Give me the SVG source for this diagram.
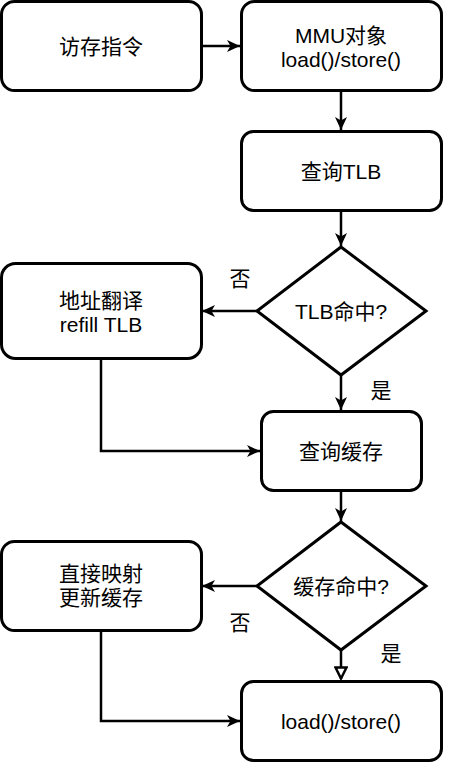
<svg xmlns="http://www.w3.org/2000/svg" width="453" height="763" viewBox="0 0 453 763">
<style>
.n{fill:#fff;stroke:#000;stroke-width:3}
.t{font-family:"Liberation Sans","Noto Sans CJK SC",sans-serif;font-size:21px;fill:#000;text-anchor:middle;dominant-baseline:central}
.c{fill:none;stroke:#000;stroke-width:2.5}
</style>
<defs>
<marker id="a" markerUnits="userSpaceOnUse" markerWidth="15" markerHeight="13" refX="13" refY="6" orient="auto" viewBox="0 0 15 12">
<path d="M0,0 L13,6 L0,12 L3.5,6 Z" fill="#000"/>
</marker>
<marker id="h" markerUnits="userSpaceOnUse" markerWidth="15" markerHeight="14" refX="12" refY="6" orient="auto" viewBox="-1 -1 15 14">
<path d="M0.5,0.5 L11.5,6 L0.5,11.5 Z" fill="#fff" stroke="#000" stroke-width="2.5"/>
</marker>
</defs>
<g id="connectors">
<path class="c" d="M201,46 H240" marker-end="url(#a)"/>
<path class="c" d="M341,91 V130" marker-end="url(#a)"/>
<path class="c" d="M341,211 V246" marker-end="url(#a)"/>
<path class="c" d="M257,311 H202" marker-end="url(#a)"/>
<path class="c" d="M341,375 V410" marker-end="url(#a)"/>
<path class="c" d="M101,359 V451 H260" marker-end="url(#a)"/>
<path class="c" d="M341,491 V521" marker-end="url(#a)"/>
<path class="c" d="M257,586 H202" marker-end="url(#a)"/>
<path class="c" d="M341,650 V679" marker-end="url(#h)"/>
<path class="c" d="M101,631 V721 H240" marker-end="url(#a)"/>
<text class="t" x="240" y="278">否</text>
<text class="t" x="381" y="390">是</text>
<text class="t" x="240" y="622">否</text>
<text class="t" x="391" y="653">是</text>
</g>
<g id="n1"><rect class="n" x="1.5" y="1.5" width="200" height="89" rx="13"/><text class="t" x="101" y="46">访存指令</text></g>
<g id="n2"><rect class="n" x="241.5" y="1.5" width="200" height="89" rx="13"/><text class="t" x="341" y="35">MMU对象</text><text class="t" x="341" y="59">load()/store()</text></g>
<g id="n3"><rect class="n" x="241.5" y="131.5" width="200" height="79" rx="12"/><text class="t" x="341" y="171">查询TLB</text></g>
<g id="n4"><path class="n" d="M341,247 L426,311 L341,375 L257,311 Z"/><text class="t" x="341" y="311">TLB命中?</text></g>
<g id="n5"><rect class="n" x="1.5" y="263.5" width="200" height="95" rx="14"/><text class="t" x="101" y="300">地址翻译</text><text class="t" x="101" y="324">refill TLB</text></g>
<g id="n6"><rect class="n" x="261.5" y="411.5" width="160" height="79" rx="12"/><text class="t" x="341" y="451">查询缓存</text></g>
<g id="n7"><path class="n" d="M341,522 L426,586 L341,650 L257,586 Z"/><text class="t" x="341" y="586">缓存命中?</text></g>
<g id="n8"><rect class="n" x="1.5" y="541.5" width="200" height="89" rx="13"/><text class="t" x="101" y="573">直接映射</text><text class="t" x="101" y="597">更新缓存</text></g>
<g id="n9"><rect class="n" x="241.5" y="681.5" width="200" height="79" rx="12"/><text class="t" x="341" y="721">load()/store()</text></g>
</svg>
